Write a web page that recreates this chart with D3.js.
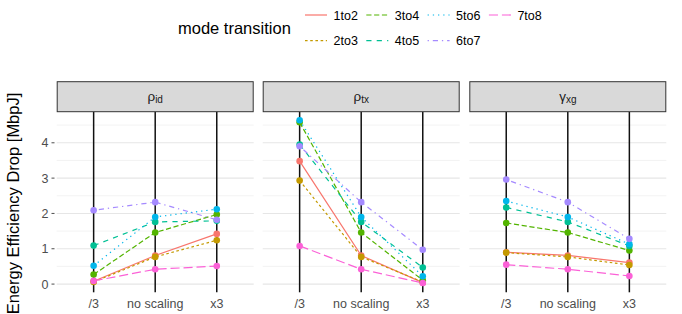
<!DOCTYPE html>
<html><head><meta charset="utf-8">
<script src="https://cdn.jsdelivr.net/npm/d3@7"></script>
<style>body{margin:0;background:#fff}svg{display:block;font-family:"Liberation Sans",Arial,sans-serif}</style>
</head><body><svg id="c" width="682" height="314"></svg>
<script>
const categories = ["/3", "no scaling", "x3"];
const panels = [
  {base: "ρ", sub: "id"},
  {base: "ρ", sub: "tx"},
  {base: "γ", sub: "xg"}
];
const seriesNames = ["1to2", "2to3", "3to4", "4to5", "5to6", "6to7", "7to8"];
const colors = ["#F8766D", "#C49A00", "#53B400", "#00C094", "#00B6EB", "#A58AFF", "#FB61D7"];
const dashes = ["", "2.6,2.6", "5.2,2.6", "5.2,5.2", "1.3,3.9", "1.3,3.9,5.2,3.9", "9.1,3.9"];
const yTicks = [0, 1, 2, 3, 4];
// values per panel: [series][category]
const rhoId = [
  [0.08, 0.81, 1.42],
  [0.06, 0.77, 1.24],
  [0.27, 1.46, 1.97],
  [1.09, 1.76, 1.79],
  [0.52, 1.90, 2.12],
  [2.09, 2.32, 1.82],
  [0.09, 0.42, 0.51]
];
const rhoTx = [
  [3.48, 0.81, 0.04],
  [2.93, 0.77, 0.06],
  [4.58, 1.46, 0.11],
  [3.95, 1.76, 0.47],
  [4.64, 1.90, 0.22],
  [3.90, 2.32, 0.97],
  [1.08, 0.42, 0.03]
];
const gammaXg = [
  [0.90, 0.81, 0.61],
  [0.89, 0.77, 0.54],
  [1.73, 1.46, 0.95],
  [2.17, 1.76, 1.08],
  [2.35, 1.90, 1.13],
  [2.96, 2.32, 1.28],
  [0.55, 0.42, 0.23]
];
const panelData = [rhoId, rhoTx, gammaXg];

const svg = d3.select("#c");
const panelX = [56.7, 262.7, 469.3], panelW = 197;
const stripTop = 81.7, stripBot = 111.7, panelBot = 292.3;
const y = d3.scaleLinear().domain([-0.2326, 4.88]).range([panelBot, stripBot]);

panels.forEach((p, pi) => {
  const x = d3.scalePoint().domain(categories).range([panelX[pi], panelX[pi] + panelW]).padding(0.6);
  const g = svg.append("g");
  d3.range(0.5, 5, 1).forEach(v => {
    g.append("line").attr("x1", panelX[pi]).attr("x2", panelX[pi] + panelW)
      .attr("y1", y(v)).attr("y2", y(v)).attr("stroke", "#F0F0F0").attr("stroke-width", 0.8);
  });
  yTicks.forEach(v => {
    g.append("line").attr("x1", panelX[pi]).attr("x2", panelX[pi] + panelW)
      .attr("y1", y(v)).attr("y2", y(v)).attr("stroke", "#E6E6E6").attr("stroke-width", 1.1);
  });
  categories.forEach(c => {
    g.append("line").attr("x1", x(c)).attr("x2", x(c)).attr("y1", stripBot).attr("y2", panelBot)
      .attr("stroke", "#111").attr("stroke-width", 1.5);
  });
  g.append("rect").attr("x", panelX[pi] + 0.5).attr("y", stripTop).attr("width", panelW - 1).attr("height", stripBot - stripTop)
    .attr("fill", "#D9D9D9").attr("stroke", "#333").attr("stroke-width", 1);
  const t = g.append("text").attr("x", panelX[pi] + panelW / 2).attr("y", stripTop + 19.5)
    .attr("text-anchor", "middle").attr("fill", "#1A1A1A").attr("font-size", 13.5);
  t.append("tspan").text(p.base);
  t.append("tspan").attr("font-size", 10).attr("dy", 1.5).text(p.sub);
  const line = d3.line().x((d, i) => x(categories[i])).y(d => y(d));
  panelData[pi].forEach((vals, si) => {
    g.append("path").attr("d", line(vals)).attr("fill", "none").attr("stroke", colors[si])
      .attr("stroke-width", 1.2).attr("stroke-dasharray", dashes[si] || null);
  });
  panelData[pi].forEach((vals, si) => {
    vals.forEach((v, i) => {
      g.append("circle").attr("cx", x(categories[i])).attr("cy", y(v)).attr("r", 3.3).attr("fill", colors[si]);
    });
  });
  categories.forEach(c => {
    g.append("text").attr("x", x(c)).attr("y", 307.5).attr("text-anchor", "middle")
      .attr("fill", "#4D4D4D").attr("font-size", 12.5).text(c);
  });
});

const ya = svg.append("g");
yTicks.forEach(v => {
  ya.append("line").attr("x1", 51.5).attr("x2", 54.5).attr("y1", y(v)).attr("y2", y(v)).attr("stroke", "#4D4D4D").attr("stroke-width", 1);
  ya.append("text").attr("x", 48.5).attr("y", y(v) + 4.5).attr("text-anchor", "end").attr("fill", "#4D4D4D").attr("font-size", 12.5).text(v);
});
svg.append("text").attr("transform", "translate(18.5,203.5) rotate(-90)")
  .attr("text-anchor", "middle").attr("font-size", 16.5).attr("fill", "#000").text("Energy Efficiency Drop [MbpJ]");

svg.append("text").attr("x", 178).attr("y", 34).attr("font-size", 16.5).attr("fill", "#000").text("mode transition");
seriesNames.forEach((s, i) => {
  const col = Math.floor(i / 2), row = i % 2;
  const lx = 305 + col * 61.3, ly = row === 0 ? 15 : 40.7;
  svg.append("line").attr("x1", lx).attr("x2", lx + 22).attr("y1", ly).attr("y2", ly)
    .attr("stroke", colors[i]).attr("stroke-width", 1.2).attr("stroke-dasharray", dashes[i] || null);
  svg.append("text").attr("x", lx + 28.5).attr("y", ly + 4.5).attr("font-size", 12.5).attr("fill", "#000").text(s);
});
</script></body></html>
